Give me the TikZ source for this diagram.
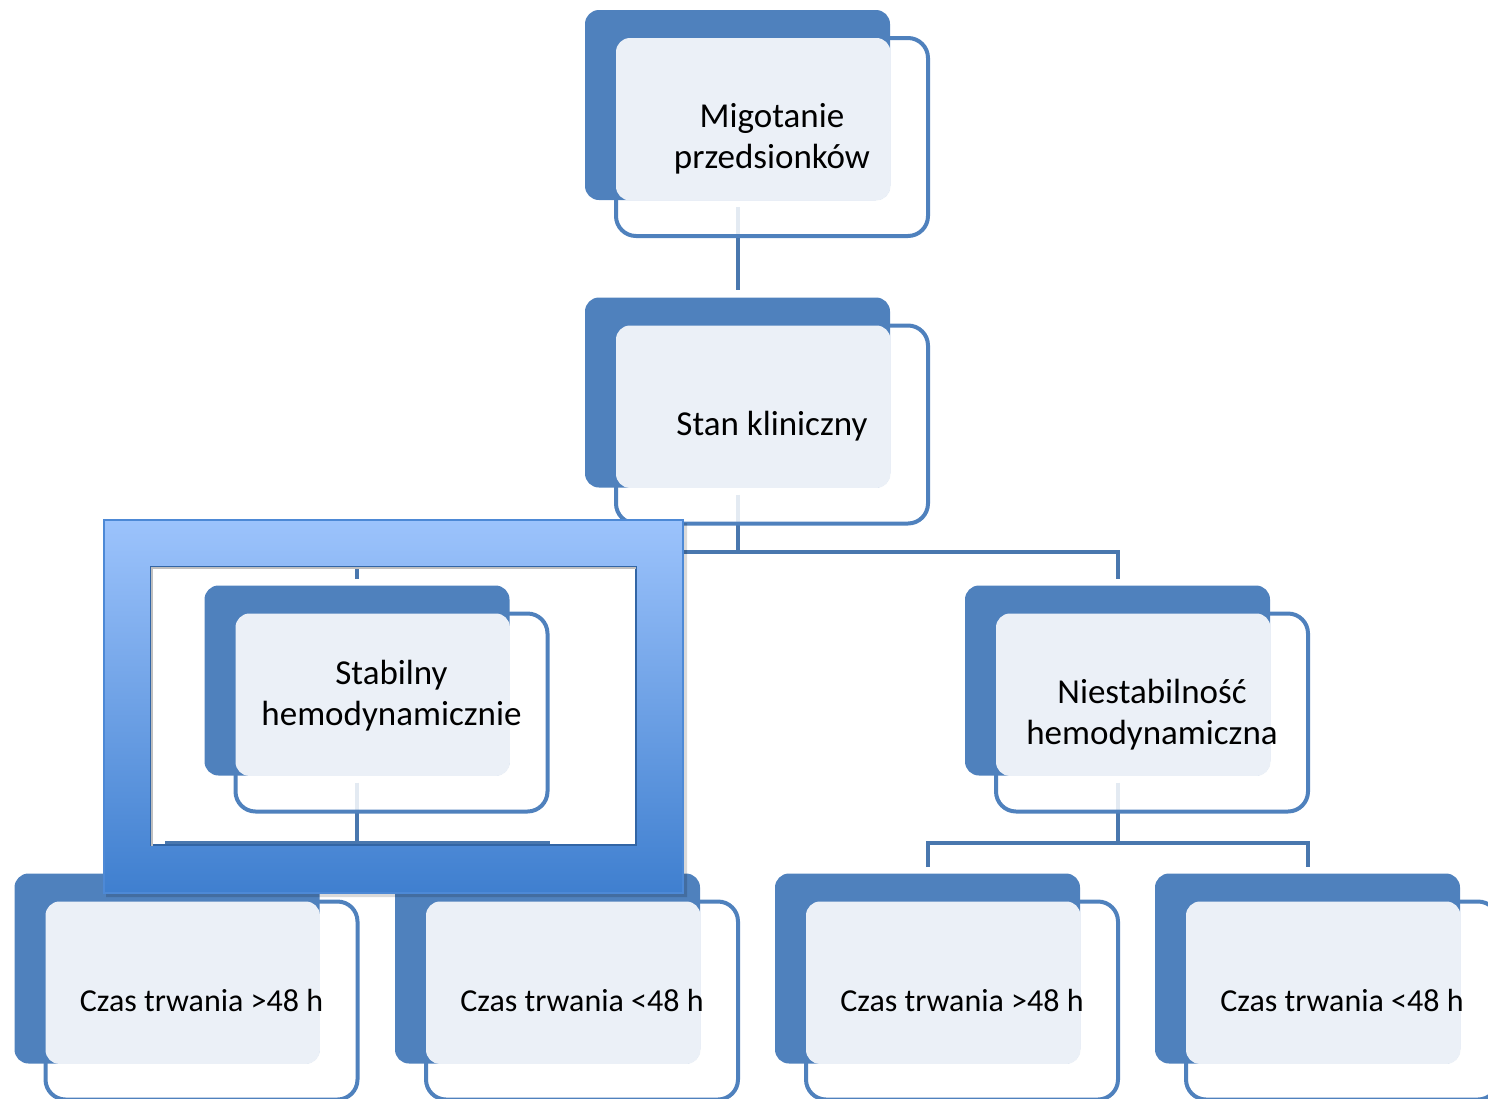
\documentclass[tikz,border=0pt]{standalone}
\usepackage{fontspec}
\setmainfont{Carlito}
\usetikzlibrary{positioning,calc,fit,backgrounds}
\definecolor{acc}{HTML}{4F81BD}
\definecolor{facebg}{HTML}{EBF0F7}
\definecolor{frtop}{HTML}{9CC3FC}
\definecolor{frbot}{HTML}{3F7FCF}
\tikzset{
  back/.style={fill=acc,rounded corners=7pt,minimum width=152.5pt,minimum height=95pt,inner sep=0pt},
  rim/.style={draw=acc,line width=2pt,fill=white,fill opacity=.85,rounded corners=10pt,minimum width=156pt,minimum height=99pt,inner sep=0pt},
  face/.style={fill=facebg,rounded corners=7pt,inner sep=0pt},
  txt/.style={font=\fontsize{16}{20}\selectfont,align=center,inner sep=0pt},
  big/.style={font=\fontsize{17.5}{20.5}\selectfont,yshift=-1pt},
  conn/.style={draw=acc!92!black,line width=2pt},
}
% one box: [text options], name, x, y (px), text
\newcommand{\orgbox}[5][]{%
  \node[rim] (#2-r) at ({#3+34.5},{#4+32}) {};
  \node[back] (#2) at (#3,#4) {};
  \coordinate (#2-c) at ([xshift=1pt,yshift=-1pt]#2-r.north west);
  \node[face,fit=(#2-c)(#2.south east)] (#2-l) {};
  \node[txt,#1] (#2-t) at (#2-r.center) {#5};}

\begin{document}
\begin{tikzpicture}[x=0.5pt,y=-0.5pt]
 \clip (0,0) rectangle (1488,1098);
 \orgbox[big]{mig}{737.5}{105}{Migotanie\\przedsionków}
 \orgbox[big]{stan}{737.5}{392.5}{Stan kliniczny}
 \orgbox[big,yshift=9.5pt]{stab}{357}{680.5}{Stabilny\\hemodynamicznie}
 \orgbox[big]{niest}{1117.5}{680.5}{Niestabilność\\hemodynamiczna}
 \foreach \n/\x/\t in {dur1/167/{Czas trwania >48 h},dur2/547.5/{Czas trwania <48 h},dur3/927.5/{Czas trwania >48 h},dur4/1307.5/{Czas trwania <48 h}}
  {\orgbox{\n}{\x}{968.5}{\t}}
 % connectors
 \begin{scope}[on background layer]
  \draw[conn] ([yshift=-3.5pt]mig.south) -- ([yshift=3.5pt]stan.north);
  \coordinate (j1) at ([yshift=-32pt]stan.south);
  \coordinate (j2) at ([yshift=-33.5pt]stab.south);
  \coordinate (j3) at ([yshift=-33.5pt]niest.south);
  \draw[conn] ([yshift=-3.5pt]stan.south) -- (j1);
  \draw[conn] ([yshift=3pt]stab.north) |- (j1) -| ([yshift=3pt]niest.north);
  \draw[conn] ([yshift=-3.5pt]stab.south) -- (j2);
  \draw[conn] ([yshift=3pt]dur1.north) |- (j2) -| ([yshift=3pt]dur2.north);
  \draw[conn] ([yshift=-3.5pt]niest.south) -- (j3);
  \draw[conn] ([yshift=3pt]dur3.north) |- (j3) -| ([yshift=3pt]dur4.north);
 \end{scope}
 % highlight frame round the stable branch
 \fill[black,opacity=.15,even odd rule] (106,523) rectangle (687,897) (151,567) rectangle (636,845);
 \shade[top color=frtop,bottom color=frbot,even odd rule] (104,520) rectangle (683,893) (151,567) rectangle (636,845);
 \draw[frbot!85!frtop,line width=.6pt] (104,520) rectangle (683,893);
 \draw[frbot!80!black,line width=.6pt] (151,567) rectangle (636,845);
 \draw[black!25,line width=1pt] (152,846) -- (152,568) -- (636,568);
\end{tikzpicture}
\end{document}
